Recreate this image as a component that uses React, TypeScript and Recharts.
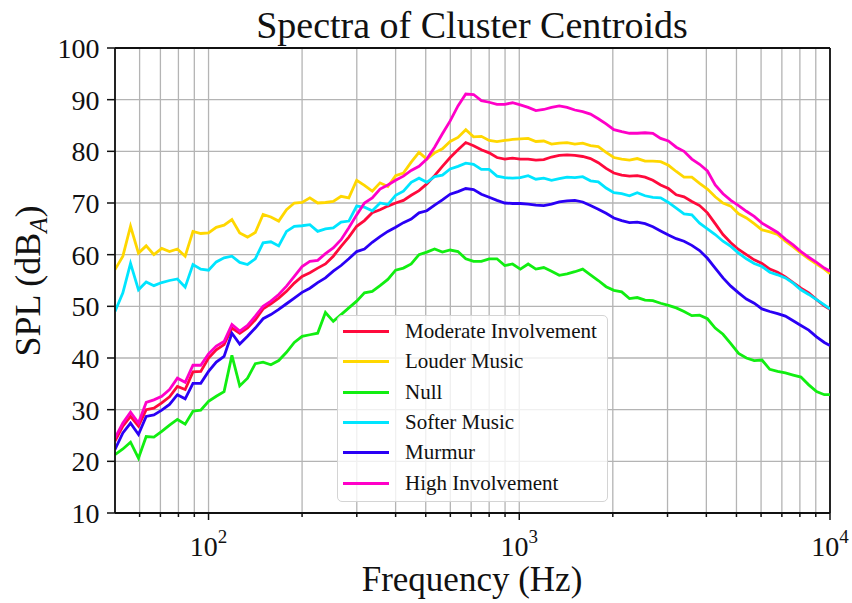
import { LineChart, Line, XAxis, YAxis, CartesianGrid, ReferenceLine } from 'recharts';

const serif = "'Liberation Serif', 'Times New Roman', serif";

// 1/12-octave band centres, 50 Hz .. 10 kHz
const freqs = [
    50, 53, 56.1, 59.5, 63, 66.7, 70.7, 74.9, 79.4, 84.1, 89.1, 94.4,
    100, 105.9, 112.2, 118.9, 126, 133.5, 141.4, 149.8, 158.7, 168.2, 178.2, 188.8,
    200, 211.9, 224.5, 237.8, 252, 267, 282.8, 299.7, 317.5, 336.4, 356.4, 377.6,
    400, 423.8, 449, 475.7, 504, 534, 565.7, 599.3, 635, 672.7, 712.7, 755.1,
    800, 847.6, 898, 951.4, 1008, 1068, 1131, 1199, 1270, 1345, 1425, 1510,
    1600, 1695, 1796, 1903, 2016, 2136, 2263, 2397, 2540, 2691, 2851, 3020,
    3200, 3390, 3592, 3805, 4032, 4271, 4525, 4795, 5080, 5382, 5702, 6041,
    6400, 6781, 7184, 7611, 8063, 8543, 9051, 9589, 10000,
];

const moderate = [
    23.9, 26.8, 28.7, 26.8, 30.0, 30.3, 31.3, 32.5, 34.5, 33.9, 37.3, 37.4,
    40.0, 41.6, 42.6, 45.8, 44.8, 45.8, 47.4, 49.5, 50.5, 51.6, 52.9, 54.5,
    55.8, 56.5, 57.4, 58.2, 59.7, 61.6, 63.4, 65.5, 66.6, 68.1, 68.7, 69.4,
    70.0, 70.5, 71.5, 72.4, 73.7, 75.3, 77.1, 78.8, 80.3, 81.7, 81.1, 80.3,
    79.7, 78.8, 78.5, 78.7, 78.5, 78.5, 78.3, 78.4, 78.9, 79.2, 79.3, 79.2,
    79.0, 78.6, 77.8, 76.7, 75.8, 75.4, 75.2, 75.3, 75.0, 74.4, 73.5, 72.8,
    71.6, 71.2, 70.3, 69.5, 68.1, 66.0, 63.9, 62.3, 61.0, 60.0, 59.0, 58.3,
    57.2, 56.6, 55.7, 54.6, 53.5, 52.6, 51.3, 50.1, 49.4,
];

const louder = [
    57.1, 59.7, 65.5, 60.3, 61.7, 60.0, 61.2, 60.6, 61.1, 59.7, 64.5, 64.1,
    64.2, 65.3, 65.7, 66.8, 64.2, 63.4, 64.3, 67.8, 67.3, 66.5, 68.7, 70.0,
    70.1, 71.0, 70.0, 70.1, 70.3, 71.3, 71.0, 74.4, 73.4, 72.3, 73.9, 73.2,
    75.3, 75.8, 77.9, 79.8, 78.5, 79.7, 80.5, 81.9, 82.7, 84.2, 82.8, 82.9,
    82.1, 81.9, 82.1, 82.3, 82.4, 82.5, 81.9, 82.0, 81.4, 81.6, 81.7, 81.4,
    81.6, 81.1, 80.9, 79.8, 78.8, 78.5, 78.3, 78.6, 78.1, 78.1, 78.0, 77.3,
    76.1, 75.0, 75.0, 73.8, 72.7, 71.2, 70.0, 69.4, 67.9, 67.1, 66.0, 64.8,
    64.4, 63.9, 62.6, 61.5, 60.3, 59.2, 58.2, 57.2, 56.3,
];

const nullCluster = [
    21.3, 22.4, 23.7, 20.6, 24.8, 24.7, 25.8, 27.0, 28.1, 27.2, 29.7, 29.9,
    31.6, 32.6, 33.5, 40.5, 34.6, 36.1, 38.9, 39.2, 38.7, 39.5, 41.1, 43.0,
    44.2, 44.5, 44.8, 48.8, 47.1, 48.4, 49.7, 51.0, 52.6, 52.9, 54.0, 55.2,
    57.0, 57.4, 58.2, 60.0, 60.5, 61.1, 60.5, 60.9, 60.6, 59.2, 58.7, 58.7,
    59.2, 59.2, 57.9, 58.2, 57.2, 58.2, 57.2, 57.5, 56.8, 56.0, 56.3, 56.7,
    57.2, 56.1, 55.0, 53.8, 53.1, 52.8, 51.5, 51.7, 51.2, 51.1, 50.6, 50.2,
    49.7, 49.0, 48.2, 48.3, 47.6, 45.8, 44.6, 42.8, 40.9, 40.0, 39.5, 39.6,
    37.8, 37.4, 37.1, 36.7, 36.3, 34.8, 33.5, 32.9, 32.9,
];

const softer = [
    49.0, 52.6, 58.3, 53.2, 54.7, 54.0, 54.6, 55.0, 55.3, 53.7, 58.1, 57.2,
    57.0, 58.6, 59.4, 59.7, 58.5, 58.1, 59.2, 62.3, 62.5, 61.7, 64.5, 65.5,
    65.6, 65.8, 64.5, 65.0, 65.2, 66.3, 66.5, 69.4, 69.2, 68.5, 70.0, 69.7,
    71.5, 72.3, 74.0, 74.8, 74.0, 75.1, 75.4, 76.6, 77.1, 77.7, 77.5, 76.5,
    76.5, 75.2, 74.9, 74.8, 74.9, 75.3, 74.6, 74.8, 74.4, 74.7, 75.0, 74.9,
    75.1, 74.3, 74.1, 72.9, 72.0, 71.8, 71.4, 72.0, 71.4, 71.1, 71.0, 70.1,
    69.0, 67.9, 67.7, 66.1, 65.0, 63.9, 62.6, 61.6, 60.3, 59.2, 58.3, 57.7,
    56.6, 56.1, 55.5, 54.5, 53.2, 52.3, 51.3, 50.3, 49.5,
];

const murmur = [
    22.3, 25.5, 27.4, 25.2, 28.7, 29.0, 29.9, 31.0, 32.9, 32.1, 35.1, 35.1,
    37.4, 39.2, 40.3, 44.8, 42.7, 44.2, 45.8, 47.6, 48.4, 49.4, 50.5, 51.6,
    52.7, 53.5, 54.6, 55.5, 56.8, 57.9, 59.2, 60.6, 61.1, 62.4, 63.5, 64.5,
    65.3, 66.2, 66.9, 68.1, 68.5, 69.6, 70.6, 71.7, 72.2, 72.8, 72.6, 71.7,
    71.1, 70.5, 70.0, 69.9, 69.9, 69.8, 69.6, 69.5, 69.8, 70.2, 70.4, 70.5,
    70.2, 69.5, 68.8, 68.0, 67.1, 66.6, 66.2, 66.3, 66.0, 65.4, 64.6, 63.8,
    63.1, 62.6, 61.8, 60.8, 59.3, 57.4, 55.5, 53.9, 52.6, 51.4, 50.6, 49.5,
    49.0, 48.6, 48.1, 47.2, 46.3, 45.4, 44.1, 43.0, 42.4,
];

const high = [
    24.5, 27.4, 29.5, 27.4, 31.4, 31.9, 32.6, 33.9, 36.1, 35.3, 38.6, 38.6,
    40.8, 42.3, 43.2, 46.5, 45.2, 46.3, 48.1, 50.0, 51.0, 52.3, 53.9, 55.8,
    57.7, 58.7, 58.9, 60.2, 61.3, 62.9, 65.2, 67.7, 70.0, 71.0, 72.7, 73.5,
    74.4, 75.2, 76.3, 77.1, 78.5, 80.8, 83.4, 85.9, 88.8, 91.1, 91.0, 89.8,
    89.5, 89.1, 89.1, 89.4, 89.0, 88.5, 87.9, 88.1, 88.5, 88.8, 88.5, 88.0,
    87.7, 87.2, 86.3, 85.3, 84.2, 83.8, 83.5, 83.5, 83.6, 83.5, 82.5, 82.0,
    80.8, 80.0, 78.5, 77.5, 76.2, 73.5, 71.8, 70.5, 69.5, 68.4, 67.4, 66.1,
    65.2, 64.3, 63.0, 61.9, 60.6, 59.5, 58.5, 57.4, 56.8,
];

const xTicks = [
    60, 70, 80, 90, 100, 200, 300, 400, 500, 600, 700, 800, 900,
    1000, 2000, 3000, 4000, 5000, 6000, 7000, 8000, 9000, 10000,
];
const yTicks = [10, 20, 30, 40, 50, 60, 70, 80, 90, 100];

const series = [
    { key: 'moderate', name: 'Moderate Involvement', color: '#ff0a3c', values: moderate },
    { key: 'louder', name: 'Louder Music', color: '#ffd700', values: louder },
    { key: 'null', name: 'Null', color: '#11ee11', values: nullCluster },
    { key: 'softer', name: 'Softer Music', color: '#00e5ff', values: softer },
    { key: 'murmur', name: 'Murmur', color: '#2a00f5', values: murmur },
    { key: 'high', name: 'High Involvement', color: '#ff00c8', values: high },
];

const chartData = freqs.map((f, i) => {
    const row: Record<string, number> = { f };
    series.forEach((s) => {
        row[s.key] = s.values[i];
    });
    return row;
});

function XTick({ x, y, payload }: any) {
    const v = payload.value as number;
    const exp = Math.round(Math.log10(v));
    const major = Math.abs(Math.pow(10, exp) - v) < 1e-6;
    return (
        <g>
            <line x1={x} x2={x} y1={y} y2={y + (major ? 7 : 4)} stroke="#111" strokeWidth={1.5} />
            {major ? (
                <text x={x} y={y + 43} textAnchor="middle" fontFamily={serif} fontSize={28} fill="#111">
                    10<tspan dy={-13} fontSize={19}>{exp}</tspan>
                </text>
            ) : null}
        </g>
    );
}

function YTick({ x, y, payload }: any) {
    return (
        <g>
            <line x1={x - 8} x2={x} y1={y} y2={y} stroke="#111" strokeWidth={1.5} />
            <text x={x - 15.5} y={y + 10} textAnchor="end" fontFamily={serif} fontSize={28} fill="#111">
                {payload.value}
            </text>
        </g>
    );
}

function LegendBox() {
    return (
        <div
            style={{
                position: 'absolute',
                left: 337,
                top: 315,
                width: 271,
                height: 187,
                boxSizing: 'border-box',
                border: '1.5px solid #d4d4d4',
                borderRadius: 5,
                background: 'rgba(255,255,255,0.8)',
                fontFamily: serif,
                fontSize: 21,
                color: '#111',
            }}
        >
            {series.map((s, i) => (
                <div
                    key={s.key}
                    style={{
                        position: 'absolute',
                        left: 0,
                        top: 0.5 + i * 30.3,
                        height: 30,
                        display: 'flex',
                        alignItems: 'center',
                        whiteSpace: 'nowrap',
                    }}
                >
                    <span style={{ display: 'inline-block', marginLeft: 5, width: 46, height: 3, background: s.color }} />
                    <span style={{ marginLeft: 16, lineHeight: 1 }}>{s.name}</span>
                </div>
            ))}
        </div>
    );
}

export default function App() {
    return (
        <div style={{ position: 'absolute', left: 0, top: 0, width: 852, height: 603, background: '#fff' }}>
            <LineChart
                width={852}
                height={603}
                data={chartData}
                margin={{ top: 48, right: 22, left: 0, bottom: 0 }}
            >
                <CartesianGrid stroke="#b4b4b4" strokeWidth={1.3} />
                <XAxis
                    dataKey="f"
                    type="number"
                    scale="log"
                    domain={[50, 10000]}
                    allowDataOverflow
                    ticks={xTicks}
                    interval={0}
                    height={90}
                    tickSize={0}
                    tickMargin={0}
                    tickLine={false}
                    tick={<XTick />}
                    axisLine={{ stroke: '#111', strokeWidth: 1.8 }}
                />
                <YAxis
                    type="number"
                    domain={[10, 100]}
                    ticks={yTicks}
                    interval={0}
                    width={115}
                    tickSize={0}
                    tickMargin={0}
                    tickLine={false}
                    tick={<YTick />}
                    axisLine={{ stroke: '#111', strokeWidth: 1.8 }}
                />
                <ReferenceLine y={100} stroke="#111" strokeWidth={1.8} />
                <ReferenceLine x={10000} stroke="#111" strokeWidth={1.8} />
                {series.map((s) => (
                    <Line
                        key={s.key}
                        dataKey={s.key}
                        name={s.name}
                        type="linear"
                        stroke={s.color}
                        strokeWidth={2.8}
                        dot={false}
                        isAnimationActive={false}
                    />
                ))}
            </LineChart>
            <svg
                width={852}
                height={603}
                style={{ position: 'absolute', left: 0, top: 0, pointerEvents: 'none' }}
            >
                <text x={472} y={38} textAnchor="middle" fontFamily={serif} fontSize={38} fill="#111">
                    Spectra of Cluster Centroids
                </text>
                <text x={472} y={591} textAnchor="middle" fontFamily={serif} fontSize={35} fill="#111">
                    Frequency (Hz)
                </text>
                <text
                    transform="translate(39.5,281) rotate(-90)"
                    textAnchor="middle"
                    fontFamily={serif}
                    fontSize={36}
                    fill="#111"
                >
                    SPL (dB<tspan dy={7} fontSize={25} fontStyle="italic">A</tspan>
                    <tspan dy={-7}>)</tspan>
                </text>
            </svg>
            <LegendBox />
        </div>
    );
}
